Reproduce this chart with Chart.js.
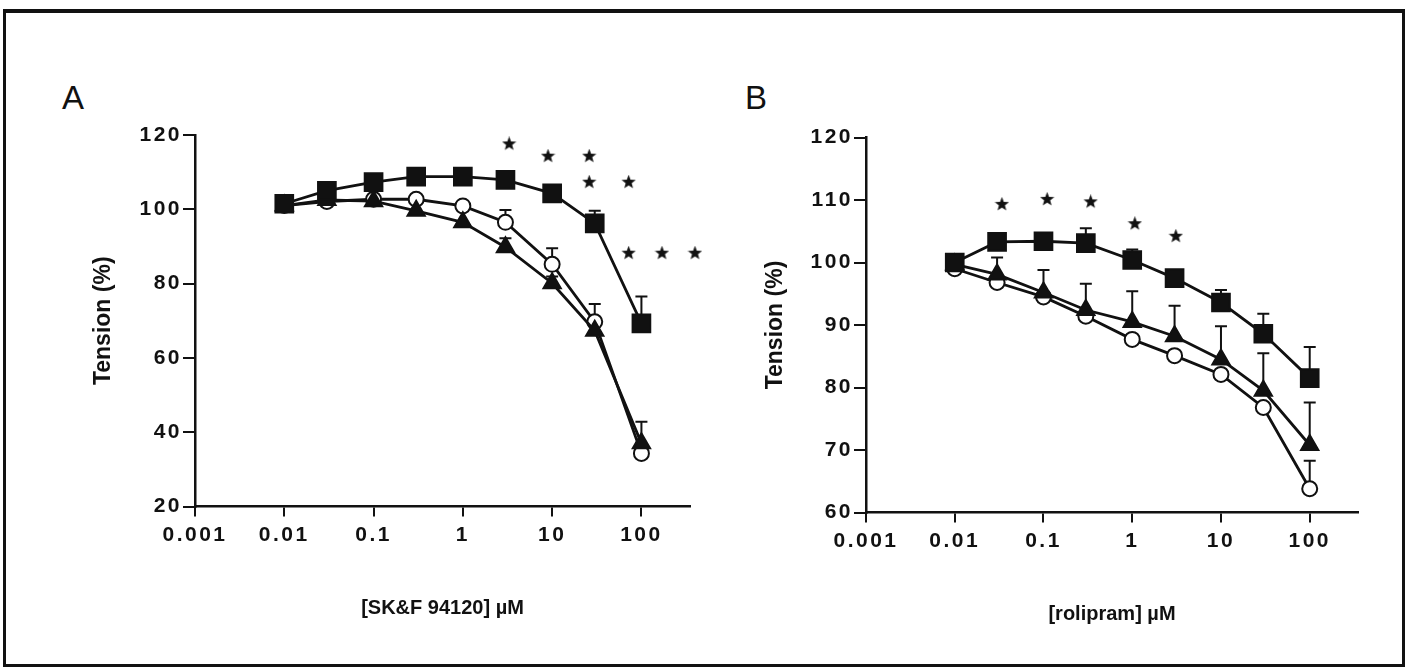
<!DOCTYPE html>
<html lang="en">
<head>
<meta charset="UTF-8">
<title>Tension vs concentration</title>
<script src="https://cdn.jsdelivr.net/npm/chart.js"></script>
<style>
  body { margin: 0; background: #fff; }
  #page { position: relative; width: 1410px; height: 668px; overflow: hidden; }
  .frame { position: absolute; left: 3px; top: 9px; width: 1396px; height: 651px; border: 3px solid #111; border-top-width: 4px; }
  .panel-label { position: absolute; font: 33px "Liberation Sans", Arial, sans-serif; color: #111; }
  canvas { position: absolute; top: 0; }
</style>
</head>
<body>
<div id="page">
  <div class="frame"></div>
  <div class="panel-label" style="left:62px; top:79px;">A</div>
  <div class="panel-label" style="left:745px; top:79px;">B</div>
  <canvas id="chartA" width="730" height="668" style="left:0px;"></canvas>
  <canvas id="chartB" width="710" height="668" style="left:700px;"></canvas>
</div>

<script>
  // concentrations (µM) and decade ticks
  const conc = [0.01, 0.03, 0.1, 0.3, 1, 3, 10, 30, 100];
  const xTicks = [0.001, 0.01, 0.1, 1, 10, 100];

  // Panel A: SK&F 94120
  const aSquare = [101.5, 105, 107.3, 108.8, 108.8, 107.9, 104.3, 96.2, 69.3];
  const aSquareErr = [0, 0, 0, 0, 0, 0, 0.8, 3.4, 7.2];
  const aCircle = [101, 102.1, 102.7, 102.7, 100.9, 96.5, 85.2, 69.7, 34.3];
  const aCircleErr = [0, 0, 0, 0, 0, 3.3, 4.3, 4.8, 0];
  const aTriangle = [101, 102.5, 102.2, 99.6, 96.5, 89.8, 80.1, 67.3, 37];
  const aTriangleErr = [0, 0, 0, 0, 0, 2.4, 1.8, 0, 5.8];
  const aStarX = [3.3, 9, 26, 26, 72, 72, 170, 398];
  const aStarY = [117.6, 114.3, 114.3, 107.3, 107.3, 88.2, 88.2, 88.2];
  const aYTicks = [20, 40, 60, 80, 100, 120];

  // Panel B: rolipram
  const bSquare = [100, 103.3, 103.4, 103.1, 100.4, 97.5, 93.6, 88.6, 81.5];
  const bSquareErr = [0, 0, 0.8, 2.4, 1.7, 0.7, 2, 3.2, 5];
  const bCircle = [99, 96.8, 94.5, 91.4, 87.7, 85.1, 82.1, 76.8, 63.8];
  const bCircleErr = [0, 0, 0, 0, 0, 0, 0, 0, 4.5];
  const bTriangle = [99.7, 98.1, 95.2, 92.4, 90.5, 88.2, 84.5, 79.5, 70.8];
  const bTriangleErr = [0, 2.7, 3.6, 4.2, 4.9, 4.9, 5.3, 6, 6.8];
  const bStarX = [0.034, 0.11, 0.34, 1.07, 3.1];
  const bStarY = [109.3, 110.1, 109.7, 106.2, 104.2];
  const bYTicks = [60, 70, 80, 90, 100, 110, 120];

  const ink = '#111';
  const family = '"Liberation Sans", Arial, sans-serif';
  const tickFont = { family: family, size: 21, weight: 'bold' };
  const xTitleFont = { family: family, size: 20, weight: 'bold' };
  const yTitleFont = { family: family, size: 23, weight: 'bold' };

  // small filled star used for significance marks
  function starImage(size) {
    const c = document.createElement('canvas');
    c.width = c.height = size;
    const g = c.getContext('2d');
    g.fillStyle = ink;
    g.beginPath();
    for (let i = 0; i < 10; i++) {
      const r = i % 2 ? size * 0.21 : size * 0.5;
      const a = -Math.PI / 2 + i * Math.PI / 5;
      g.lineTo(size / 2 + r * Math.cos(a), size / 2 + r * Math.sin(a));
    }
    g.closePath();
    g.fill();
    return c;
  }
  const star = starImage(15);

  // upward SEM bars, drawn under the markers
  const errorBars = {
    id: 'errorBars',
    beforeDatasetsDraw(chart) {
      const { ctx, scales: { x, y } } = chart;
      ctx.save();
      ctx.strokeStyle = ink;
      ctx.lineWidth = 2;
      chart.data.datasets.forEach(ds => {
        if (!ds.errors) return;
        ds.data.forEach((p, i) => {
          const e = ds.errors[i];
          if (!e) return;
          const px = x.getPixelForValue(p.x);
          const y0 = y.getPixelForValue(p.y);
          const y1 = y.getPixelForValue(p.y + e);
          ctx.beginPath();
          ctx.moveTo(px, y0);
          ctx.lineTo(px, y1);
          ctx.moveTo(px - 6, y1);
          ctx.lineTo(px + 6, y1);
          ctx.stroke();
        });
      });
      ctx.restore();
    },
    // tick labels are drawn after the datasets (ticks.z = 1), so spread them there
    afterDatasetsDraw(chart) { chart.ctx.letterSpacing = '2.5px'; },
    afterDraw(chart) { chart.ctx.letterSpacing = '0px'; }
  };

  const pts = vals => vals.map((v, i) => ({ x: conc[i], y: v }));

  function series(vals, errs, style, fill, radius, order) {
    return {
      data: pts(vals),
      errors: errs,
      showLine: true,
      borderColor: ink,
      borderWidth: 2.8,
      pointStyle: style,
      pointRadius: radius,
      pointBackgroundColor: fill,
      pointBorderColor: ink,
      pointBorderWidth: 2,
      order: order
    };
  }

  function makePanel(id, cfg) {
    new Chart(document.getElementById(id), {
      type: 'scatter',
      data: {
        datasets: [
          series(cfg.circle, cfg.circleErr, 'circle', '#fff', 7.5, 3),
          series(cfg.triangle, cfg.triangleErr, 'triangle', ink, 10, 2),
          series(cfg.square, cfg.squareErr, 'rect', ink, 12.5, 1),
          {
            data: cfg.starX.map((v, i) => ({ x: v, y: cfg.starY[i] })),
            showLine: false,
            pointStyle: star,
            clip: false,
            order: 0
          }
        ]
      },
      options: {
        responsive: false,
        animation: false,
        layout: { padding: cfg.padding },
        plugins: { legend: { display: false }, tooltip: { enabled: false } },
        scales: {
          x: {
            type: 'logarithmic',
            min: 0.001,
            max: 350,
            afterBuildTicks: s => { s.ticks = xTicks.map(v => ({ value: v })); },
            afterFit: s => { s.height = 118; },
            ticks: { callback: v => String(v), font: tickFont, color: ink, padding: 6, maxRotation: 0, autoSkip: false, z: 1 },
            grid: { drawOnChartArea: false, drawTicks: true, tickLength: 10, color: ink, lineWidth: 2 },
            border: { color: ink, width: 2.5 },
            title: { display: true, text: cfg.xTitle, font: xTitleFont, color: ink, padding: { top: 4, bottom: 4 } }
          },
          y: {
            min: cfg.yTicks[0],
            max: cfg.yTicks[cfg.yTicks.length - 1],
            afterBuildTicks: s => { s.ticks = cfg.yTicks.map(v => ({ value: v })); },
            afterFit: s => { s.width = cfg.yWidth; },
            ticks: { font: tickFont, color: ink, padding: 1, z: 1 },
            grid: { drawOnChartArea: false, drawTicks: true, tickLength: 12, color: ink, lineWidth: 2 },
            border: { color: ink, width: 2.5 },
            title: { display: true, text: 'Tension (%)', font: yTitleFont, color: ink, padding: { top: 2, bottom: 2 } }
          }
        }
      },
      plugins: [errorBars]
    });
  }

  makePanel('chartA', {
    square: aSquare, squareErr: aSquareErr,
    circle: aCircle, circleErr: aCircleErr,
    triangle: aTriangle, triangleErr: aTriangleErr,
    starX: aStarX, starY: aStarY,
    yTicks: aYTicks,
    xTitle: '[SK&F 94120] µM',
    yWidth: 107,
    padding: { left: 88, top: 135, right: 40, bottom: 43.5 }
  });

  makePanel('chartB', {
    square: bSquare, squareErr: bSquareErr,
    circle: bCircle, circleErr: bCircleErr,
    triangle: bTriangle, triangleErr: bTriangleErr,
    starX: bStarX, starY: bStarY,
    yTicks: bYTicks,
    xTitle: '[rolipram] µM',
    yWidth: 106,
    padding: { left: 60, top: 137.5, right: 52, bottom: 37.5 }
  });
</script>
</body>
</html>
